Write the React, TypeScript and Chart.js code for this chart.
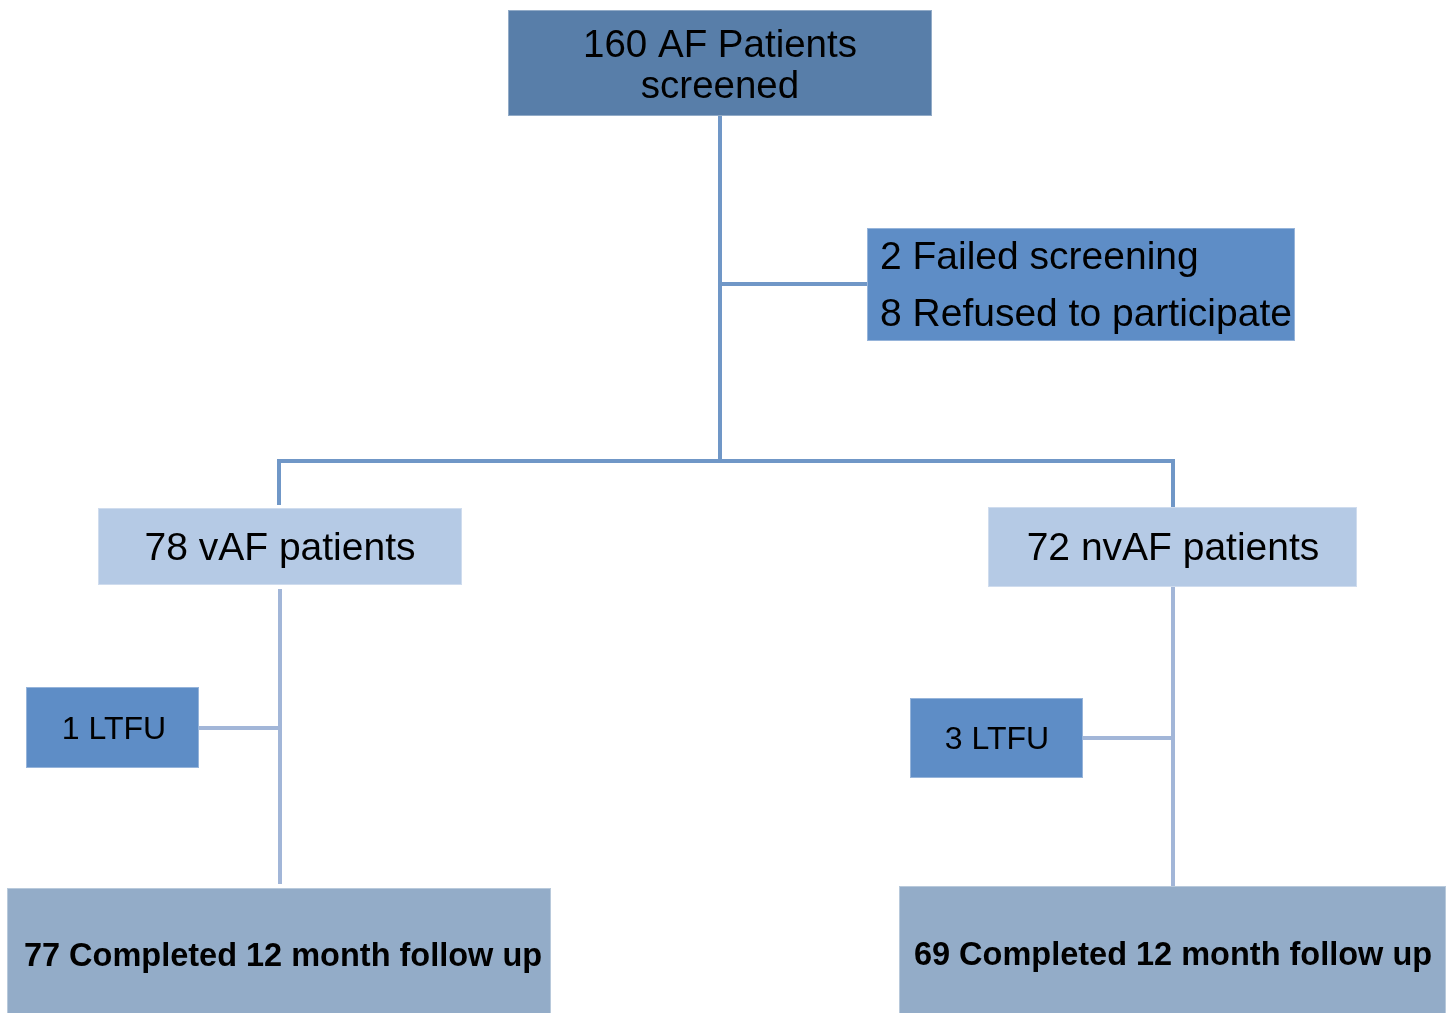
import React, { useEffect, useRef } from "react";
import { Chart, registerables } from "chart.js";

Chart.register(...registerables);

// ---- Flowchart content ----
const boxLabels: string[][] = [
  ["160 AF Patients", "screened"],
  ["2 Failed screening", "8 Refused to participate"],
  ["78 vAF patients"],
  ["72 nvAF patients"],
  ["1 LTFU"],
  ["3 LTFU"],
  ["77 Completed 12 month follow up"],
  ["69 Completed 12 month follow up"],
];

// ---- Layout (diagram units, 0..1450 x 0..1013) ----
const boxLeft = [508, 867, 98, 988, 26, 910, 7, 899];
const boxRight = [932, 1295, 462, 1357, 199, 1083, 551, 1446];
const boxTop = [10, 228, 508, 507, 687, 698, 888, 886];
const boxBottom = [116, 341, 585, 587, 768, 778, 1020, 1020];
const boxTextY = [[46, 87], [258, 315], [549], [549], [730], [740], [957], [956]];
const boxTextX = [720, 880, 280, 1173, 114, 997, 283, 1173];
const boxAlign: CanvasTextAlign[] = ["center", "left", "center", "center", "center", "center", "center", "center"];
const boxFont = [
  "38.5px 'Liberation Sans', Arial, sans-serif",
  "39px 'Liberation Sans', Arial, sans-serif",
  "39px 'Liberation Sans', Arial, sans-serif",
  "39px 'Liberation Sans', Arial, sans-serif",
  "32px 'Liberation Sans', Arial, sans-serif",
  "32px 'Liberation Sans', Arial, sans-serif",
  "bold 32.5px 'Liberation Sans', Arial, sans-serif",
  "bold 32.5px 'Liberation Sans', Arial, sans-serif",
];
const boxFill = ["#587EA9", "#5E8DC6", "#B5CAE5", "#B5CAE5", "#5E8DC6", "#5E8DC6", "#93ACC8", "#93ACC8"];

// connectors
const upperConnectors = [
  [[720, 116], [720, 461]],
  [[720, 284], [867, 284]],
  [[279, 505], [279, 461], [1173, 461], [1173, 507]],
];
const lowerConnectors = [
  [[280, 589], [280, 884]],
  [[199, 728], [280, 728]],
  [[1173, 587], [1173, 887]],
  [[1083, 738], [1173, 738]],
];

const boxesPlugin = {
  id: "flowBoxes",
  afterDatasetsDraw(chart: any) {
    const { ctx, scales } = chart;
    const xs = scales.x;
    const ys = scales.y;
    ctx.save();
    boxLabels.forEach((lines, i) => {
      const x0 = xs.getPixelForValue(boxLeft[i]);
      const x1 = xs.getPixelForValue(boxRight[i]);
      const y0 = ys.getPixelForValue(boxTop[i]);
      const y1 = ys.getPixelForValue(boxBottom[i]);
      ctx.fillStyle = boxFill[i];
      ctx.fillRect(x0, y0, x1 - x0, y1 - y0);
      ctx.strokeStyle = "rgba(255,255,255,0.35)";
      ctx.lineWidth = 1;
      ctx.strokeRect(x0 + 0.5, y0 + 0.5, x1 - x0 - 1, y1 - y0 - 1);
      ctx.fillStyle = "#000000";
      ctx.font = boxFont[i];
      ctx.textAlign = boxAlign[i];
      ctx.textBaseline = "middle";
      lines.forEach((t, j) => {
        ctx.fillText(t, xs.getPixelForValue(boxTextX[i]), ys.getPixelForValue(boxTextY[i][j]));
      });
    });
    ctx.restore();
  },
};

export default function App() {
  const ref = useRef<HTMLCanvasElement | null>(null);
  useEffect(() => {
    document.body.style.margin = "0";
    if (!ref.current) return;
    const datasets: any[] = [];
    upperConnectors.forEach((pts) =>
      datasets.push({
        data: pts.map(([x, y]) => ({ x, y })),
        borderColor: "#7097C7",
        borderWidth: 4,
        pointRadius: 0,
        showLine: true,
        fill: false,
        tension: 0,
      })
    );
    lowerConnectors.forEach((pts) =>
      datasets.push({
        data: pts.map(([x, y]) => ({ x, y })),
        borderColor: "#A2B6D8",
        borderWidth: 4,
        pointRadius: 0,
        showLine: true,
        fill: false,
        tension: 0,
      })
    );
    const chart = new Chart(ref.current, {
      type: "scatter",
      data: { datasets },
      options: {
        animation: false,
        responsive: false,
        maintainAspectRatio: false,
        layout: { padding: 0 },
        plugins: { legend: { display: false }, tooltip: { enabled: false } },
        scales: {
          x: { type: "linear", min: 0, max: 1450, display: false },
          y: { type: "linear", min: 0, max: 1013, reverse: true, display: false },
        },
      },
      plugins: [boxesPlugin],
    });
    return () => chart.destroy();
  }, []);
  return (
    <div style={{ width: 1450, height: 1013, background: "#ffffff" }}>
      <canvas ref={ref} width={1450} height={1013} style={{ display: "block" }} />
    </div>
  );
}
